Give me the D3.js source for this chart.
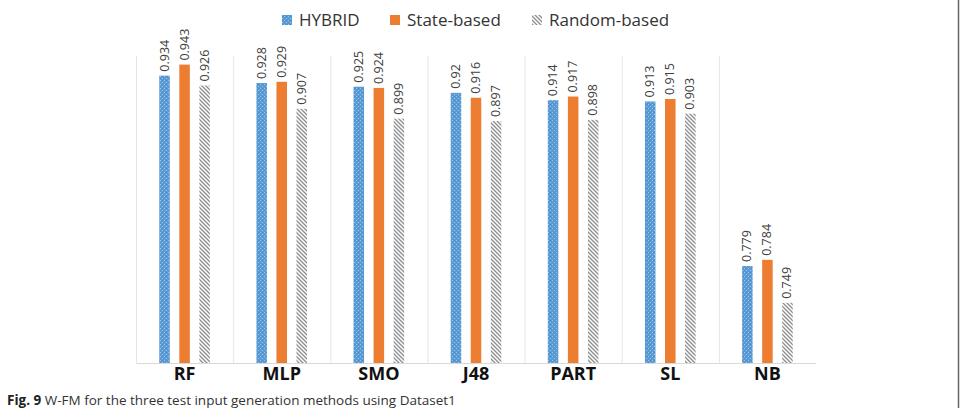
<!DOCTYPE html>
<html><head><meta charset="utf-8">
<script src="https://cdn.jsdelivr.net/npm/d3@7"></script>
<style>body{margin:0;background:#fff;} svg{display:block;}</style>
</head><body>
<svg id="chart" width="962" height="408"></svg>
<script>
const categories = ["RF","MLP","SMO","J48","PART","SL","NB"];
const seriesNames = ["HYBRID","State-based","Random-based"];
const hybrid = [0.934,0.928,0.925,0.92,0.914,0.913,0.779];
const stateBased = [0.943,0.929,0.924,0.916,0.917,0.915,0.784];
const randomBased = [0.926,0.907,0.899,0.897,0.898,0.903,0.749];
const labelText = {
  HYBRID: ["0.934","0.928","0.925","0.92","0.914","0.913","0.779"],
  "State-based": ["0.943","0.929","0.924","0.916","0.917","0.915","0.784"],
  "Random-based": ["0.926","0.907","0.899","0.897","0.898","0.903","0.749"]
};
const yDomain = [0.7, 0.95];
const caption = ["Fig. 9", " W-FM for the three test input generation methods using Dataset1"];

const values = {HYBRID: hybrid, "State-based": stateBased, "Random-based": randomBased};
const fills = {HYBRID: "url(#pBlue)", "State-based": "#ed7d31", "Random-based": "url(#pHatch)"};

const svg = d3.select("#chart");
const defs = svg.append("defs");
const pb = defs.append("pattern").attr("id","pBlue").attr("patternUnits","userSpaceOnUse").attr("width",4).attr("height",4);
pb.append("rect").attr("width",4).attr("height",4).attr("fill","#5b9bd5");
pb.append("rect").attr("x",0).attr("y",0).attr("width",1).attr("height",1).attr("fill","#9cc3e8");
pb.append("rect").attr("x",2).attr("y",2).attr("width",1).attr("height",1).attr("fill","#9cc3e8");
pb.append("rect").attr("x",2).attr("y",0).attr("width",1).attr("height",1).attr("fill","#4a88c4");
const ph = defs.append("pattern").attr("id","pHatch").attr("patternUnits","userSpaceOnUse").attr("width",4).attr("height",4);
ph.append("rect").attr("width",4).attr("height",4).attr("fill","#fff");
ph.append("path").attr("d","M-1,-1 L5,5 M-1,3 L1,5 M3,-1 L5,1").attr("stroke","#8c8c8c").attr("stroke-width",1.3);

const x0 = d3.scaleBand().domain(categories).range([136, 816]).paddingInner(0).paddingOuter(0);
const x1 = d3.scaleBand().domain(seriesNames).range([0, x0.bandwidth()]).paddingInner(0.475).paddingOuter(1.16);
const y = d3.scaleLinear().domain(yDomain).range([363, 56]);

const seps = categories.map(c => x0(c));
svg.append("g").selectAll("line").data(seps).join("line")
  .attr("x1", d => d + 0.5).attr("x2", d => d + 0.5)
  .attr("y1", y(yDomain[1])).attr("y2", y(yDomain[0]))
  .attr("stroke", "#e6e6e6").attr("stroke-width", 1);

const g = svg.append("g");
seriesNames.forEach(s => {
  const gs = g.append("g");
  gs.selectAll("rect").data(categories).join("rect")
    .attr("x", c => x0(c) + x1(s))
    .attr("width", x1.bandwidth())
    .attr("y", (c, i) => y(values[s][i]))
    .attr("height", (c, i) => y(yDomain[0]) - y(values[s][i]))
    .attr("fill", fills[s]);
  gs.selectAll("text").data(categories).join("text")
    .attr("transform", (c, i) => `translate(${x0(c) + x1(s) + x1.bandwidth()/2 + 4},${y(values[s][i]) - 4}) rotate(-90)`)
    .attr("font-family", "'Open Sans', sans-serif").attr("font-size", 12.5)
    .attr("fill", "#404040")
    .text((c, i) => labelText[s][i]);
});

const xAxis = d3.axisBottom(x0).tickSize(0).tickPadding(4);
const ax = svg.append("g").attr("transform", `translate(0,${y(yDomain[0])})`).call(xAxis);
ax.select(".domain").attr("stroke", "#d9d9d9").attr("d", `M136.5,0.5H816`);
ax.selectAll("text").attr("font-family", "'Open Sans', sans-serif").attr("font-size", 18)
  .attr("font-weight", "bold").attr("fill", "#111").attr("dy", "0.71em");

const legX = [282, 390, 532];
const leg = svg.append("g");
seriesNames.forEach((s, i) => {
  leg.append("rect").attr("x", legX[i]).attr("y", 15).attr("width", 10).attr("height", 10).attr("fill", fills[s]);
  leg.append("text").attr("x", legX[i] + 17).attr("y", 26).attr("font-family", "'Open Sans', sans-serif")
    .attr("font-size", 17).attr("fill", "#333").text(s);
});

const cap = svg.append("text").attr("x", 7).attr("y", 405).attr("font-family", "'Open Sans', sans-serif").attr("font-size", 13.5).attr("fill", "#222");
cap.append("tspan").attr("font-weight", "bold").text(caption[0]);
cap.append("tspan").attr("fill", "#333").text(caption[1]);

svg.append("line").attr("x1", 958.5).attr("x2", 958.5).attr("y1", 0).attr("y2", 408).attr("stroke", "#666").attr("stroke-width", 1.5);
</script>
</body></html>
